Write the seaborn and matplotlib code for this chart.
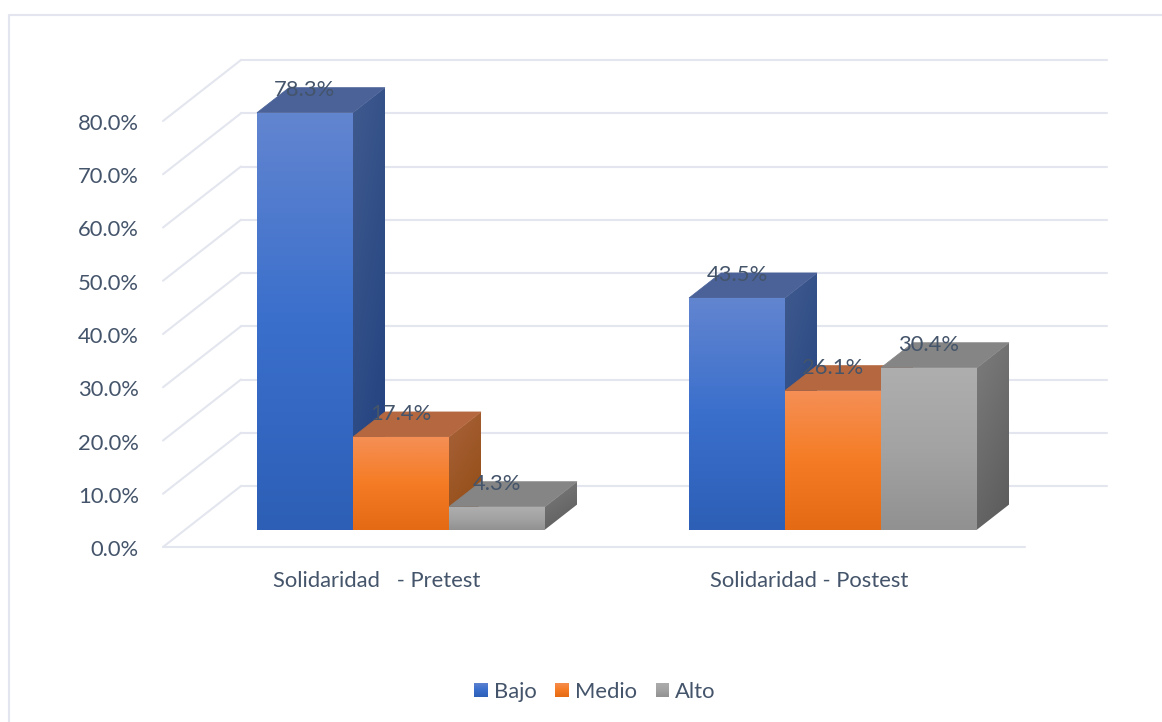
import matplotlib
matplotlib.use("Agg")
import matplotlib.pyplot as plt
from matplotlib.colors import LinearSegmentedColormap
from matplotlib.patches import Polygon
import seaborn as sns

import pandas as pd
import numpy as np

categories = ["Solidaridad   - Pretest", "Solidaridad - Postest"]
levels = ["Bajo", "Medio", "Alto"]
bajo = [78.3, 43.5]
medio = [17.4, 26.1]
alto = [4.3, 30.4]
y_ticks = [0, 10, 20, 30, 40, 50, 60, 70, 80]

# front, top and side shades per level
FRONT = {"Bajo": ["#6285d0", "#3a6fcc", "#2d5fb6"],
         "Medio": ["#f58f55", "#f57c24", "#e46a14"],
         "Alto": ["#aeaeae", "#a3a3a3", "#919191"]}
SIDE = {"Bajo": ["#3f5a8e", "#1f3f7e"],
        "Medio": ["#a8623a", "#8f4a10"],
        "Alto": ["#7c7c7c", "#5a5a5a"]}
TOP = {"Bajo": "#4a6298", "Medio": "#b5683f", "Alto": "#858585"}
GRID = "#e3e6ee"
TEXT = "#44546a"
FONT_SIZE = 15.8

# Pixel layout of the fake 3D scene
W, H = 1162, 722
PX_UNIT = 432.0    # px between the two groups
PX_PCT = 5.325     # px per percentage point
X0_PX = 401.0      # centre of first group
Y0_PX = 529.6      # bar plane zero line
TEXT_DROP = 2.0    # px, value labels sit a bit lower than the line they label
TICK_DROP = 3.0    # px, same for the axis labels


def dx(px):
    return px / PX_UNIT


def dy(px):
    return px / PX_PCT


def xpos(px):
    return (px - X0_PX) / PX_UNIT


def ypos(px):
    return (Y0_PX - px) / PX_PCT


def gradient(ax, poly, colors, zorder, diagonal=False):
    """Fill a polygon with a vertical (or slanted) colour gradient"""
    cmap = LinearSegmentedColormap.from_list("face", colors)
    g = np.linspace(0, 1, 128)
    xx, yy = np.meshgrid(g, g)
    values = (yy * 0.7 + xx * 0.3) if diagonal else yy
    xs, ys = poly[:, 0], poly[:, 1]
    patch = Polygon(poly, closed=True, facecolor="none", edgecolor="none", zorder=zorder)
    ax.add_patch(patch)
    im = ax.imshow(values, cmap=cmap, vmin=0, vmax=1, aspect="auto", origin="upper",
                   extent=(xs.min(), xs.max(), ys.min(), ys.max()), zorder=zorder,
                   interpolation="bilinear")
    im.set_clip_path(patch)


df = pd.DataFrame({
    "categoria": np.repeat(categories, len(levels)),
    "nivel": levels * len(categories),
    "valor": [bajo[0], medio[0], alto[0], bajo[1], medio[1], alto[1]],
})

sns.set_theme(style="white")
plt.rcParams["font.family"] = ["Lato", "DejaVu Sans"]

fig = plt.figure(figsize=(W / 100, H / 100), dpi=100)
ax = fig.add_axes([0, 0, 1, 1])

sns.barplot(data=df, x="categoria", y="valor", hue="nivel", order=categories, hue_order=levels,
            palette={k: v[1] for k, v in FRONT.items()}, width=2 / 3, gap=0, dodge=True,
            saturation=1, errorbar=None, ax=ax)

# Grid: back wall, left wall and floor edge
for t in y_ticks:
    ax.plot([xpos(241), xpos(1107)], [ypos(486) + t] * 2, color=GRID, lw=1.5, zorder=1)
    ax.plot([xpos(163), xpos(241)], [ypos(547) + t, ypos(486) + t], color=GRID, lw=1.5, zorder=1)
    ax.text(xpos(139), ypos(547 + TICK_DROP) + t, f"{t:.1f}%", ha="right", va="center",
            fontsize=FONT_SIZE, color=TEXT)
ax.plot([xpos(163), xpos(1025)], [ypos(547)] * 2, color=GRID, lw=1.5, zorder=1)

# Chart frame
ax.plot([xpos(9), xpos(9), xpos(W)], [ypos(H), ypos(15), ypos(15)], color=GRID, lw=1.5, zorder=1)

# Bars as 3D blocks
depth_x, depth_y = dx(32), dy(25)
bars = []
for level, container in zip(levels, ax.containers):
    for patch in container:
        bars.append((patch.get_x(), level, patch))
bars.sort(key=lambda b: b[0])

for i, (_, level, patch) in enumerate(bars):
    x0, x1 = patch.get_x(), patch.get_x() + patch.get_width()
    top = patch.get_height()
    z = 3 + i
    patch.set_zorder(z)
    patch.set_edgecolor("none")
    side = np.array([[x1, 0], [x1 + depth_x, depth_y], [x1 + depth_x, top + depth_y], [x1, top]])
    gradient(ax, side, SIDE[level], z + 0.1, diagonal=True)
    ax.add_patch(Polygon([[x0, top], [x1, top], [x1 + depth_x, top + depth_y], [x0 + depth_x, top + depth_y]],
                         closed=True, facecolor=TOP[level], edgecolor=TOP[level], lw=0.5, zorder=z + 0.2))
    front = np.array([[x0, 0], [x1, 0], [x1, top], [x0, top]])
    gradient(ax, front, FRONT[level], z + 0.3)
    ax.text((x0 + x1) / 2, top + depth_y - dy(TEXT_DROP), f"{top:.1f}%", ha="center", va="center",
            fontsize=FONT_SIZE, color=TEXT, zorder=20)

# Category labels sit on the floor edge
for i, name in enumerate(categories):
    ax.text(i + dx(-24), ypos(581), name, ha="center", va="center", fontsize=FONT_SIZE, color=TEXT)

handles, labels = ax.get_legend_handles_labels()
leg = ax.legend(handles, labels, ncol=3, loc="center", frameon=False, fontsize=FONT_SIZE,
                bbox_to_anchor=(595 / W, 1 - 692 / H), labelcolor=TEXT,
                handlelength=0.63, handleheight=0.63, handletextpad=0.27, columnspacing=0.85)
leg.set_zorder(30)

ax.set_xlim(xpos(0), xpos(W))
ax.set_ylim(ypos(H), ypos(0))
ax.axis("off")

# Legend swatches carry the same gradient as the bars
fig.canvas.draw()
for level, handle in zip(levels, leg.legend_handles):
    box = handle.get_window_extent().transformed(ax.transData.inverted())
    square = np.array([[box.x0, box.y0], [box.x1, box.y0], [box.x1, box.y1], [box.x0, box.y1]])
    gradient(ax, square, FRONT[level], 31)

fig.savefig("out.png", dpi=100)
plt.close(fig)
